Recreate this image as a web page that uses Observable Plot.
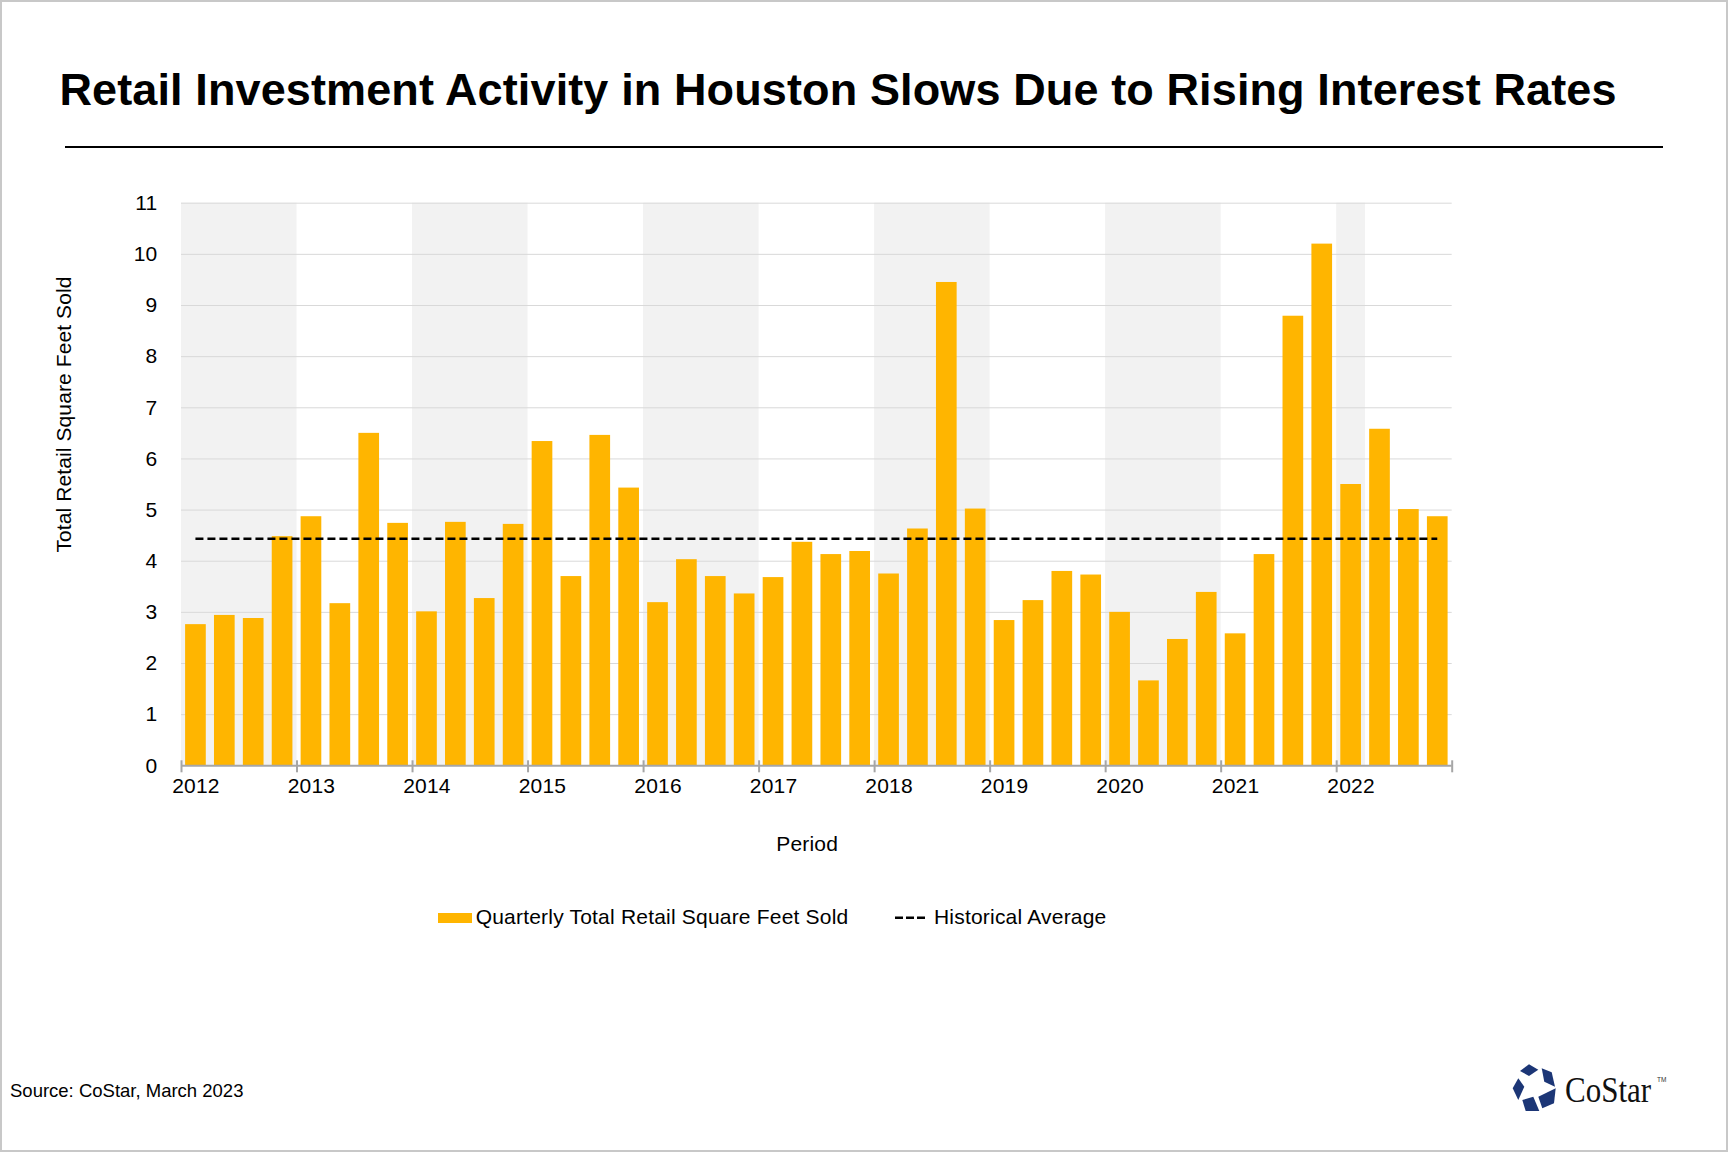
<!DOCTYPE html>
<html>
<head>
<meta charset="utf-8">
<script src="https://cdn.jsdelivr.net/npm/d3@7"></script>
<script src="https://cdn.jsdelivr.net/npm/@observablehq/plot@0.6"></script>
<style>
  html, body { margin: 0; padding: 0; background: #fff; }
  body { width: 1728px; height: 1152px; position: relative; overflow: hidden; font-family: "Liberation Sans", Arial, sans-serif; color: #000; }
  .abs { position: absolute; white-space: nowrap; line-height: 1; }
  #frame { position: absolute; left: 0; top: 0; width: 1728px; height: 1152px; box-sizing: border-box; border: 2px solid #c8c8c8; pointer-events: none; }
  #title { left: 59.4px; top: 66.9px; font-size: 45px; font-weight: bold; letter-spacing: 0.12px; }
  #rule { position: absolute; left: 65px; top: 145.7px; width: 1598px; height: 2px; background: #000; }
  #chart { position: absolute; left: 0; top: 160px; }
  #chart svg text { letter-spacing: 0.2px; }
  #chart svg text.ylab { letter-spacing: 0.1px; }
  .leg { font-size: 21px; top: 906.2px; letter-spacing: 0.2px; }
  #source { left: 10px; top: 1081.9px; font-size: 18.5px; }
</style>
</head>
<body>
<div id="title" class="abs">Retail Investment Activity in Houston Slows Due to Rising Interest Rates</div>
<div id="rule"></div>
<div id="chart"></div>
<div id="legend"></div>
<div id="source" class="abs">Source: CoStar, March 2023</div>
<svg id="logo" style="position:absolute;left:1505px;top:1058px" width="170" height="60"></svg>
<div id="frame"></div>
<script>
// ---------- data ----------
const years = [2012, 2013, 2014, 2015, 2016, 2017, 2018, 2019, 2020, 2021, 2022];
const quarters = ["Q1", "Q2", "Q3", "Q4"];
// Quarterly Total Retail Square Feet Sold (millions), 2012 Q1 .. 2022 Q4
const sqftSold = [
  2.76, 2.94, 2.88, 4.48,   // 2012
  4.87, 3.17, 6.50, 4.74,   // 2013
  3.01, 4.76, 3.27, 4.72,   // 2014
  6.34, 3.70, 6.46, 5.43,   // 2015
  3.19, 4.03, 3.70, 3.36,   // 2016
  3.68, 4.37, 4.13, 4.19,   // 2017
  3.75, 4.63, 9.45, 5.02,   // 2018
  2.84, 3.23, 3.80, 3.73,   // 2019
  3.00, 1.66, 2.47, 3.39,   // 2020
  2.58, 4.13, 8.79, 10.20,  // 2021
  5.50, 6.58, 5.01, 4.87    // 2022
];
const historicalAverage = 4.44;
const yTicks = [0, 1, 2, 3, 4, 5, 6, 7, 8, 9, 10, 11];
// background shading bands (start year, end year) as in the source chart
const shadeStart = [2012, 2014, 2016, 2018, 2020, 2022];
const shadeEnd   = [2013, 2015, 2017, 2019, 2021, 2022.25];

const seriesName = "Quarterly Total Retail Square Feet Sold";
const avgName = "Historical Average";
const yLabel = "Total Retail Square Feet Sold";
const xLabel = "Period";

// ---------- build tables ----------
const barColor = "#FFB500";
const table = sqftSold.map((v, i) => ({
  year: years[Math.floor(i / 4)],
  quarter: quarters[i % 4],
  t: years[Math.floor(i / 4)] + (i % 4) / 4,
  value: v
}));
const shades = shadeStart.map((s, i) => ({x1: s, x2: shadeEnd[i]}));
const boundaryYears = years.concat([years[years.length - 1] + 1]);
const qw = 0.25;

const W = 1728, H = 720;
const chart = Plot.plot({
  width: W,
  height: H,
  marginLeft: 181,
  marginRight: 276.3,
  marginTop: 42.7,
  marginBottom: 114.7,
  style: {fontFamily: '"Liberation Sans", Arial, sans-serif', fontSize: "21px", color: "#000", background: "transparent", overflow: "visible"},
  x: {type: "linear", domain: [years[0], years[years.length - 1] + 1]},
  y: {domain: [0, 11]},
  marks: [
    Plot.rectY(shades, {x1: "x1", x2: "x2", y1: 0, y2: 11, fill: "#f2f2f2"}),
    Plot.gridY({ticks: yTicks.filter(d => d > 0), stroke: "#d9d9d9", strokeOpacity: 1, strokeWidth: 1}),
    Plot.rectY(table, {x1: "t", x2: d => d.t + qw, y1: 0, y2: "value", fill: barColor, insetLeft: 4.1, insetRight: 4.1}),
    Plot.ruleY([historicalAverage], {x1: table[0].t + qw / 2, x2: table[table.length - 1].t + qw / 2, stroke: "#000", strokeWidth: 2.5, strokeDasharray: "8,4"}),
    Plot.ruleY([0], {stroke: "#a6a6a6", strokeWidth: 2}),
    Plot.ruleX(boundaryYears, {x: d => d, y1: 0, y2: 0, insetTop: 7, insetBottom: 5, stroke: "#a6a6a6", strokeWidth: 2}),
    Plot.axisY({ticks: yTicks, tickSize: 0, tickPadding: 24, fontSize: 21, label: null}),
    Plot.axisX({ticks: years.map(y => y + qw / 2), tickFormat: d => String(Math.floor(d)), tickSize: 0, tickPadding: 12, fontSize: 21, label: null}),
    Plot.text([yLabel], {frameAnchor: "left", text: d => d, rotate: -90, dx: -117, dy: -70, textAnchor: "middle", lineAnchor: "middle", fontSize: 21, className: "ylab"}),
    Plot.text([xLabel], {frameAnchor: "bottom", text: d => d, dx: -9.7, dy: 78.7, textAnchor: "middle", lineAnchor: "middle", fontSize: 21})
  ]
});
document.getElementById("chart").appendChild(chart);
chart.querySelectorAll("g.ylab text, text.ylab").forEach(t => t.classList.add("ylab"));

// ---------- legend ----------
const legend = document.getElementById("legend");
legend.innerHTML = `
  <div class="abs" style="left:438.3px;top:912.7px;width:33.4px;height:10px;background:${barColor}"></div>
  <div class="abs leg" style="left:475.7px">${seriesName}</div>
  <svg class="abs" style="left:893px;top:912px" width="36" height="12"><line x1="2" x2="33" y1="5.7" y2="5.7" stroke="#000" stroke-width="2.5" stroke-dasharray="8,3"/></svg>
  <div class="abs leg" style="left:934px">${avgName}</div>
`;

// ---------- logo (decoration) ----------
const logo = d3.select("#logo");
const navy = "#1c3676";
const pieces = [
  [[15, 13], [24, 6.3], [33.3, 11.7], [24, 18]],
  [[36.7, 10.3], [46.7, 14.3], [50, 28.7], [39.3, 23.7]],
  [[13.3, 20.3], [19.3, 28.7], [13.3, 42], [7.7, 30.3]],
  [[17.3, 42], [28.3, 38.7], [34.3, 53], [20.7, 53]],
  [[33.3, 38.7], [50.7, 30.3], [49, 45.3], [37.3, 50.3]]
];
pieces.forEach(p => logo.append("polygon").attr("points", p.map(q => q.join(",")).join(" ")).attr("fill", navy));
logo.append("text").attr("transform", "translate(60,44.3) scale(1,1.18)").attr("font-family", '"Liberation Serif", "DejaVu Serif", serif')
  .attr("font-size", 31).attr("fill", "#111").text("CoStar");
logo.append("text").attr("x", 152).attr("y", 24).attr("font-family", '"Liberation Sans", Arial, sans-serif')
  .attr("font-size", 6.5).attr("fill", "#333").text("TM");
</script>
</body>
</html>
